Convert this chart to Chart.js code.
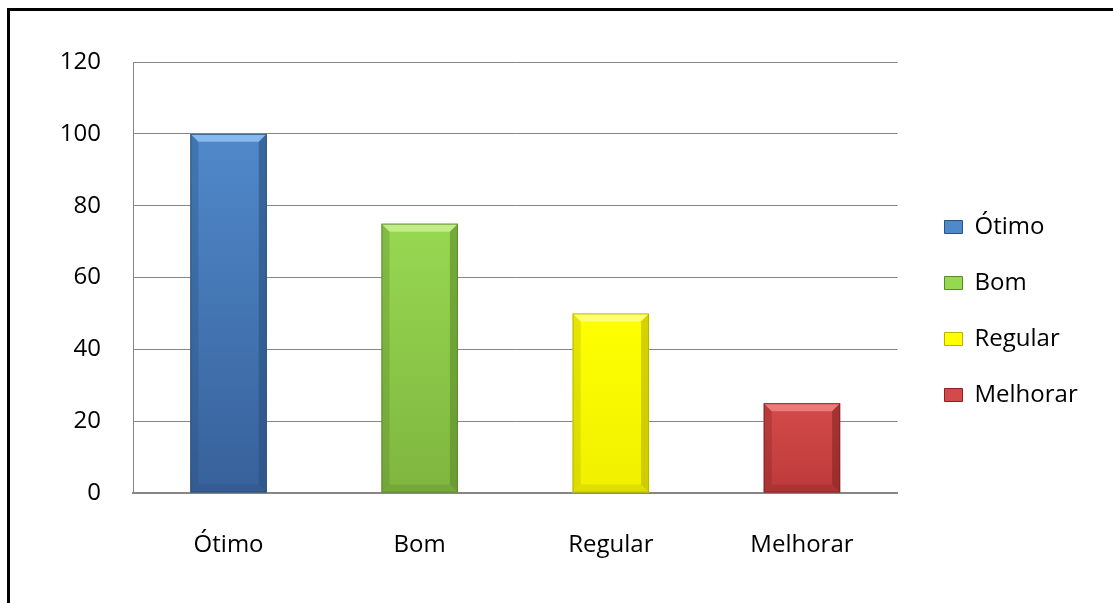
<!DOCTYPE html>
<html>
<head>
<meta charset="utf-8">
<script src="https://cdn.jsdelivr.net/npm/chart.js@4.4.0/dist/chart.umd.min.js"></script>
<style>
    html, body { margin: 0; padding: 0; background: #fff; }
    #wrap { position: relative; width: 1113px; height: 603px; overflow: hidden; }
    #moldura { position: absolute; left: 7px; top: 8px; right: -10px; bottom: -10px;
        border-left: 3px solid #000; border-top: 3px solid #000; pointer-events: none; }
    canvas { position: absolute; left: 0; top: 0; }
</style>
</head>
<body>
<div id="wrap">
    <canvas id="grafico" width="1113" height="603"></canvas>
    <div id="moldura"></div>
</div>
<script>
// Dados do gráfico
const categorias = ['Ótimo', 'Bom', 'Regular', 'Melhorar'];
const valores = [100, 75, 50, 25];
const ticksY = [0, 20, 40, 60, 80, 100, 120];

// Cores de cada barra: brilho, corpo (topo), corpo (base), borda escura
const corBrilho = ['#8fc2f4', '#c9f08e', '#ffff8a', '#f08282'];
const corTopo = ['#5089cb', '#97d851', '#ffff00', '#d44a4a'];
const corBase = ['#37619a', '#7fb63f', '#f0f000', '#bd3a3a'];
const corBorda = ['#2b527f', '#5c8a2b', '#b5b500', '#862424'];

const fonte = { family: "'Open Sans', 'DejaVu Sans', sans-serif", size: 24 };

function corBarra(context) {
    const i = context.dataIndex;
    const chart = context.chart;
    if (!chart.chartArea || !chart.scales.y) return corTopo[i];
    const yTopo = chart.scales.y.getPixelForValue(valores[i]);
    const yBase = chart.scales.y.getPixelForValue(0);
    const g = chart.ctx.createLinearGradient(0, yTopo, 0, yBase);
    g.addColorStop(0, corTopo[i]);
    g.addColorStop(1, corBase[i]);
    return g;
}

// Efeito de relevo nas barras
const relevo = {
    id: 'relevo',
    afterDatasetsDraw(chart) {
        const ctx = chart.ctx;
        const meta = chart.getDatasetMeta(0);
        const b = 8;
        meta.data.forEach((bar, i) => {
            const p = bar.getProps(['x', 'y', 'base', 'width'], true);
            const l = p.x - p.width / 2, r = p.x + p.width / 2;
            const t = p.y, bt = p.base;
            ctx.save();
            // topo claro
            ctx.fillStyle = corBrilho[i];
            ctx.globalAlpha = 0.85;
            ctx.beginPath();
            ctx.moveTo(l, t); ctx.lineTo(r, t); ctx.lineTo(r - b, t + b); ctx.lineTo(l + b, t + b);
            ctx.closePath(); ctx.fill();
            // lados escuros
            ctx.fillStyle = corBorda[i];
            ctx.globalAlpha = 0.35;
            ctx.beginPath();
            ctx.moveTo(l, t); ctx.lineTo(l + b, t + b); ctx.lineTo(l + b, bt - b); ctx.lineTo(l, bt);
            ctx.closePath(); ctx.fill();
            ctx.globalAlpha = 0.6;
            ctx.beginPath();
            ctx.moveTo(r, t); ctx.lineTo(r - b, t + b); ctx.lineTo(r - b, bt - b); ctx.lineTo(r, bt);
            ctx.closePath(); ctx.fill();
            ctx.globalAlpha = 0.3;
            ctx.beginPath();
            ctx.moveTo(l, bt); ctx.lineTo(l + b, bt - b); ctx.lineTo(r - b, bt - b); ctx.lineTo(r, bt);
            ctx.closePath(); ctx.fill();
            // contorno
            ctx.globalAlpha = 0.9;
            ctx.strokeStyle = corBorda[i];
            ctx.lineWidth = 1;
            ctx.strokeRect(l + 0.5, t + 0.5, p.width - 1, bt - t - 1);
            ctx.restore();
        });
    }
};

const ctx = document.getElementById('grafico').getContext('2d');
new Chart(ctx, {
    type: 'bar',
    data: {
        labels: categorias,
        datasets: [{
            label: 'Avaliação',
            data: valores,
            backgroundColor: corBarra,
            borderWidth: 0,
            barPercentage: 0.40,
            categoryPercentage: 1.0
        }]
    },
    options: {
        responsive: false,
        animation: false,
        layout: { padding: { left: 60, top: 62, right: 30, bottom: 43 } },
        scales: {
            x: {
                grid: { display: false, drawTicks: false },
                border: { display: true, color: '#868686', width: 2 },
                ticks: { color: '#000', font: fonte, padding: 38, maxRotation: 0 },
                afterFit: s => { s.height = 67; }
            },
            y: {
                min: 0,
                max: 120,
                afterBuildTicks: s => { s.ticks = ticksY.map(v => ({ value: v })); },
                afterFit: s => { s.width = 73; },
                grid: { color: '#868686', lineWidth: 1, drawTicks: false },
                border: { display: true, color: '#868686', width: 1 },
                ticks: { color: '#000', font: fonte, padding: 32 }
            },
            espaco: {
                position: 'right',
                display: true,
                grid: { display: false },
                border: { display: false },
                ticks: { display: false },
                afterFit: s => { s.width = 15; }
            }
        },
        plugins: {
            legend: {
                position: 'right',
                align: 'center',
                labels: {
                    color: '#000',
                    font: fonte,
                    boxWidth: 18,
                    boxHeight: 13,
                    padding: 32,
                    generateLabels: chart => categorias.map((c, i) => ({
                        text: c,
                        fillStyle: corTopo[i],
                        strokeStyle: corBorda[i],
                        lineWidth: 1,
                        fontColor: '#000',
                        hidden: false,
                        index: i,
                        datasetIndex: 0
                    }))
                },
                onClick: () => {}
            },
            tooltip: { enabled: false }
        }
    },
    plugins: [relevo]
});
</script>
</body>
</html>
